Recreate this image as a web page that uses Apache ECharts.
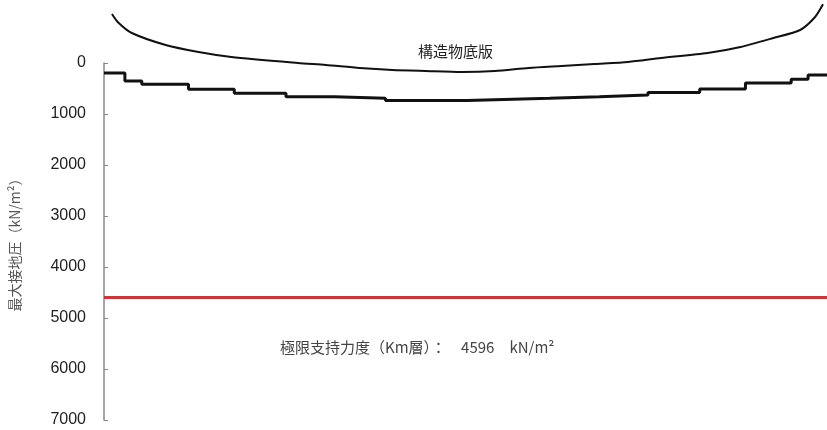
<!DOCTYPE html>
<html>
<head>
<meta charset="utf-8">
<script src="https://cdn.jsdelivr.net/npm/echarts@6/dist/echarts.min.js"></script>
<style>
html,body{margin:0;padding:0;background:#fff;}
#c{width:827px;height:430px;}
</style>
</head>
<body>
<div id="c"></div>
<script>
// horizontal position along the slab (arbitrary units)
const stepBounds = [0, 2.1, 3.8, 8.5, 13.1, 18.3, 23.2, 28.3, 36.5, 40.2, 44.8, 49.8, 54.7, 59.9, 64.5, 69.1, 70.8, 72.7];
// contact pressure of each step segment (kN/m2)
const stepValues = [196, 353, 418, 516, 594, 661, 692, 735, 716, 692, 661, 627, 578, 510, 392, 320, 235];
// outline of the slab drawing (same units)
const slabX = [0.8, 1.4, 2.8, 6.2, 9.5, 12.8, 19.5, 22.3, 25.7, 29.0, 32.3, 36.0, 39.3, 42.7, 46.0, 49.3, 52.7, 56.0, 60.7, 64.0, 67.3, 70.0, 71.5, 72.3];
const slabY = [-960, -800, -588, -353, -216, -118, 0, 39, 98, 137, 157, 176, 157, 98, 59, 20, -20, -98, -196, -314, -490, -647, -902, -1150];
const yTicks = [0, 1000, 2000, 3000, 4000, 5000, 6000, 7000];
const limitValue = 4596;
const slabLabel = '構造物底版';
const yName = '最大接地圧（kN/m²）';
const limitLabel = '極限支持力度（Km層）：　' + limitValue + '　kN/m²';

const stepData = [];
for (let i = 0; i < stepValues.length; i++) {
  stepData.push([stepBounds[i], stepValues[i]]);
  stepData.push([stepBounds[i + 1], stepValues[i]]);
}
const slabData = slabX.map((x, i) => [x, slabY[i]]);

const chart = echarts.init(document.getElementById('c'));
chart.setOption({
  animation: false,
  backgroundColor: '#fff',
  grid: { left: 100, right: 0, top: 63, bottom: 10, containLabel: false },
  xAxis: {
    type: 'value', min: 0, max: 72.7, show: false
  },
  yAxis: {
    type: 'value', inverse: true,
    min: yTicks[0], max: yTicks[yTicks.length - 1], interval: 1000,
    name: yName, nameLocation: 'middle', nameRotate: 90, nameGap: 82,
    nameTextStyle: { color: '#555', fontSize: 14, fontFamily: 'Noto Sans CJK JP' },
    axisLine: { show: true, lineStyle: { color: '#888', width: 1.5 } },
    axisTick: { show: true, inside: true, length: 4, lineStyle: { color: '#888' } },
    axisLabel: { color: '#222', fontSize: 16, margin: 18, fontFamily: 'Liberation Sans',
      formatter: v => String(v) },
    splitLine: { show: false }
  },
  series: [
    {
      type: 'line', data: stepData, symbol: 'none',
      lineStyle: { color: '#111', width: 3 },
      markLine: {
        symbol: 'none', silent: true,
        label: { show: false },
        lineStyle: { color: '#c9373a', width: 3, type: 'solid' },
        data: [{ yAxis: limitValue }]
      }
    },
    {
      type: 'line', data: slabData, symbol: 'none', smooth: 0.25, clip: false,
      lineStyle: { color: '#111', width: 2 }
    }
  ],
  graphic: [
    { type: 'text', left: 418, top: 44, style: { text: slabLabel, fontSize: 15, fill: '#222', fontFamily: 'Noto Sans CJK JP' } },
    { type: 'text', left: 280, top: 340, style: { text: limitLabel, fontSize: 15, fill: '#444', fontFamily: 'Noto Sans CJK JP' } }
  ]
});
</script>
</body>
</html>
